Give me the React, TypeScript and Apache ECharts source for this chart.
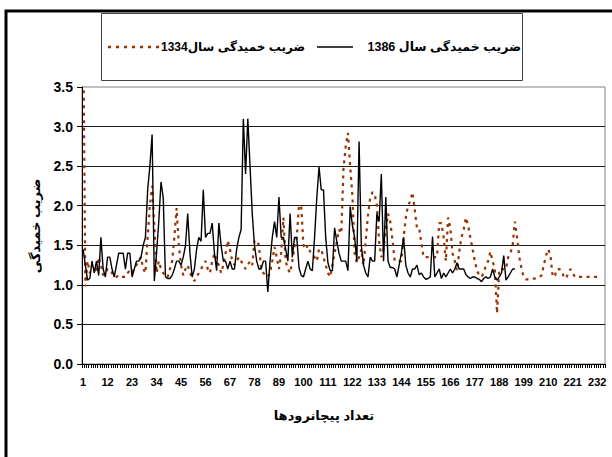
import React, { useEffect, useRef } from "react";
import * as echarts from "echarts";

// category axis: river meanders numbered 1..235
const CATEGORY_COUNT = 235;
const categories: string[] = Array.from({ length: CATEGORY_COUNT }, (_, i) => String(i + 1));

const series1386Name = "ضریب خمیدگی سال 1386";
const series1334Name = "ضریب خمیدگی سال1334";

// sinuosity index, year 1386 (solid black)
const values1386: number[] = [
  1.45, 1.25, 1.06, 1.08, 1.3, 1.15, 1.3, 1.12, 1.6, 1.2,
  1.1, 1.35, 1.35, 1.2, 1.1, 1.25, 1.4, 1.4, 1.4, 1.2,
  1.4, 1.4, 1.1, 1.2, 1.3, 1.3, 1.35, 1.5, 1.6, 2.2,
  2.5, 2.9, 1.05, 1.4, 1.8, 2.3, 2.1, 1.1, 1.08, 1.08,
  1.12, 1.2, 1.3, 1.3, 1.25, 1.35, 1.5, 1.9, 1.4, 1.1,
  1.2, 1.45, 1.6, 1.55, 2.2, 1.6, 1.65, 1.65, 1.78, 1.4,
  1.18, 1.78, 1.5, 1.3, 1.3, 1.2, 1.3, 1.2, 1.2, 1.45,
  1.6, 1.7, 3.1, 2.4, 3.1, 2.5, 1.9, 1.5, 1.3, 1.2,
  1.2, 1.3, 1.3, 0.91, 1.3, 1.6, 1.8, 1.6, 2.11, 1.6,
  1.6, 1.45, 1.3, 1.9, 1.35, 1.6, 1.6, 1.22, 1.12, 1.1,
  1.2, 1.3, 1.2, 1.18, 1.6, 2.1, 2.49, 2.2, 2.2, 1.6,
  1.28, 1.18, 1.18, 1.72, 1.55, 1.4, 1.3, 1.3, 1.3, 1.18,
  1.99, 1.75, 1.6, 1.3, 2.81, 1.5, 1.25, 1.15, 1.1, 1.35,
  1.3, 1.3, 1.9, 1.8, 2.4, 1.3, 2.11, 1.3, 1.22, 1.22,
  1.2, 1.1, 1.25, 1.4, 1.6, 1.25, 1.15, 1.1, 1.2, 1.2,
  1.25, 1.13, 1.15, 1.1, 1.07, 1.08, 1.1, 1.61, 1.1, 1.15,
  1.2, 1.08, 1.15, 1.1, 1.15, 1.2, 1.15, 1.2, 1.28, 1.2,
  1.2, 1.2, 1.13, 1.1, 1.08, 1.1, 1.1, 1.08, 1.07, 1.04,
  1.08, 1.1, 1.08, 1.1, 1.2, 1.1, 1.06, 1.1, 1.15, 1.37,
  1.06, 1.1, 1.15, 1.2, 1.2,
];

// sinuosity index, year 1334 (dotted brown)
const values1334: number[] = [
  4.5, 0.98, 1.3, 1.15, 1.2, 1.2, 1.15, 1.35, 1.25, 1.12,
  1.15, 1.2, 1.2, 1.15, 1.1, 1.1, 1.12, 1.1, 1.1, 1.1,
  1.15, 1.18, 1.15, 1.22, 1.25, 1.3, 1.35, 1.2, 1.15, 1.6,
  2.0, 2.25, 1.75, 1.15, 1.3, 1.2, 1.15, 1.1, 1.1, 1.2,
  1.3, 1.6, 1.97, 1.5, 1.25, 1.12, 1.2, 1.25, 1.15, 1.1,
  1.05, 1.1, 1.15, 1.2, 1.25, 1.3, 1.2, 1.15, 1.3, 1.4,
  1.3, 1.25, 1.15, 1.25, 1.4, 1.56, 1.45, 1.3, 1.25, 1.3,
  1.35, 1.3, 1.25, 1.2, 1.25, 1.3, 1.25, 1.56, 1.56, 1.5,
  1.2, 1.15, 1.12, 1.1, 1.15, 1.3, 1.48, 1.35, 1.2, 1.4,
  1.85, 1.3, 1.2, 1.15, 1.3, 1.48, 1.6, 2.0, 2.0, 1.5,
  1.45, 1.5, 1.42, 1.38, 1.35, 1.3, 1.45, 1.45, 1.35, 1.25,
  1.15, 1.1, 1.25, 1.4, 1.55, 1.7, 1.65, 2.47, 2.75, 2.92,
  2.5, 2.13, 1.4, 1.28, 1.35, 1.45, 1.25, 1.56, 1.88, 2.1,
  2.17, 2.15, 2.0, 1.55, 1.35, 1.45, 1.7, 1.9, 1.8, 1.57,
  1.3, 1.3, 1.3, 1.3, 1.6, 1.85, 2.0, 2.06, 2.17, 1.95,
  1.72, 1.72, 1.52, 1.35, 1.35, 1.35, 1.35, 1.35, 1.35, 1.35,
  1.78, 1.78, 1.6, 1.3, 1.85, 1.72, 1.4, 1.3, 1.18, 1.42,
  1.6, 1.7, 1.85, 1.75, 1.6, 1.45, 1.3, 1.18, 1.12, 1.1,
  1.15, 1.25, 1.3, 1.42, 1.3, 1.2, 0.64, 1.2, 1.2, 1.2,
  1.2, 1.35, 1.4, 1.5, 1.8, 1.6, 1.35, 1.2, 1.1, 1.07,
  1.07, 1.07, 1.08, 1.08, 1.1, 1.1, 1.12, 1.25, 1.37, 1.45,
  1.37, 1.1, 1.12, 1.2, 1.2, 1.18, 1.1, 1.08, 1.15, 1.2,
  1.15, 1.1, 1.1, 1.1, 1.1, 1.1, 1.1, 1.1, 1.1, 1.1,
  1.1, 1.1, 1.1,
];

const yAxisTitle = "ضریب خمیدگی";
const xAxisTitle = "تعداد پیچانرودها";

const BROWN = "#993300";
const LABEL_FONT = "'Liberation Sans', Arial, 'DejaVu Sans', sans-serif";
const NARROW_FONT = "'Liberation Sans Narrow', 'Arial Narrow', 'Liberation Sans', Arial, sans-serif";

export default function App() {
  const ref = useRef<HTMLDivElement>(null);

  useEffect(() => {
    if (!ref.current) return;
    const chart = echarts.init(ref.current, null, { renderer: "svg" });
    const legendY = 47;
    chart.setOption({
      animation: false,
      backgroundColor: "#ffffff",
      grid: {
        left: 82,
        right: 7,
        top: 87,
        bottom: 93,
        show: true,
        borderColor: "#808080",
        borderWidth: 1,
      },
      xAxis: {
        type: "category",
        data: categories,
        boundaryGap: true,
        axisLine: { show: true, lineStyle: { color: "#000", width: 1 } },
        axisTick: { show: true, interval: 0, length: 4, lineStyle: { color: "#000", width: 1 } },
        axisLabel: {
          interval: 10,
          margin: 12,
          fontFamily: NARROW_FONT,
          fontWeight: "bold",
          fontSize: 11,
          color: "#000",
        },
        splitLine: { show: false },
      },
      yAxis: {
        type: "value",
        min: 0,
        max: 3.5,
        interval: 0.5,
        axisLine: { show: true, lineStyle: { color: "#000", width: 1 } },
        axisTick: { show: true, length: 5, lineStyle: { color: "#000", width: 1 } },
        axisLabel: {
          margin: 9,
          formatter: (v: number) => v.toFixed(1),
          fontFamily: LABEL_FONT,
          fontWeight: "bold",
          fontSize: 14,
          color: "#000",
        },
        splitLine: {
          show: true,
          showMinLine: false,
          showMaxLine: false,
          lineStyle: { color: "#1a1a1a", width: 1 },
        },
      },
      series: [
        {
          name: series1386Name,
          type: "line",
          data: values1386,
          symbol: "none",
          clip: true,
          z: 3,
          lineStyle: { color: "#000", width: 1.4 },
        },
        {
          name: series1334Name,
          type: "line",
          data: values1334,
          symbol: "none",
          clip: true,
          z: 2,
          lineStyle: { color: BROWN, width: 2.2, type: [3, 4.5], cap: "butt" },
        },
      ],
      graphic: [
        {
          type: "rect",
          shape: { x: 6, y: 11, width: 640, height: 480 },
          style: { fill: "none", stroke: "#000", lineWidth: 3 },
          silent: true,
        },
        {
          type: "rect",
          shape: { x: 101.5, y: 13.5, width: 421, height: 67 },
          style: { fill: "#fff", stroke: "#444", lineWidth: 1 },
          silent: true,
        },
        {
          type: "line",
          shape: { x1: 108, y1: legendY, x2: 160, y2: legendY },
          style: { stroke: BROWN, lineWidth: 2.5, lineDash: [3, 5] },
          silent: true,
        },
        {
          type: "text",
          x: 161,
          y: legendY,
          style: {
            text: series1334Name,
            fontFamily: LABEL_FONT,
            fontWeight: "bold",
            fontSize: 12,
            fill: "#000",
            align: "left",
            verticalAlign: "middle",
          },
          silent: true,
        },
        {
          type: "line",
          shape: { x1: 317, y1: legendY, x2: 353, y2: legendY },
          style: { stroke: "#000", lineWidth: 1.5 },
          silent: true,
        },
        {
          type: "text",
          x: 521,
          y: legendY,
          style: {
            text: series1386Name,
            fontFamily: LABEL_FONT,
            fontWeight: "bold",
            fontSize: 12.5,
            fill: "#000",
            align: "right",
            verticalAlign: "middle",
          },
          silent: true,
        },
        {
          type: "text",
          x: 35,
          y: 226,
          rotation: Math.PI / 2,
          style: {
            text: yAxisTitle,
            fontFamily: LABEL_FONT,
            fontWeight: "bold",
            fontSize: 13,
            fill: "#000000",
            align: "center",
            verticalAlign: "middle",
          },
          silent: true,
        },
        {
          type: "text",
          x: 324,
          y: 415,
          style: {
            text: xAxisTitle,
            fontFamily: LABEL_FONT,
            fontWeight: "bold",
            fontSize: 13,
            fill: "#000000",
            align: "center",
            verticalAlign: "middle",
          },
          silent: true,
        },
      ],
    });
    return () => chart.dispose();
  }, []);

  return (
    <div
      ref={ref}
      style={{ position: "absolute", left: 0, top: 0, width: 612, height: 457, background: "#fff" }}
    />
  );
}
